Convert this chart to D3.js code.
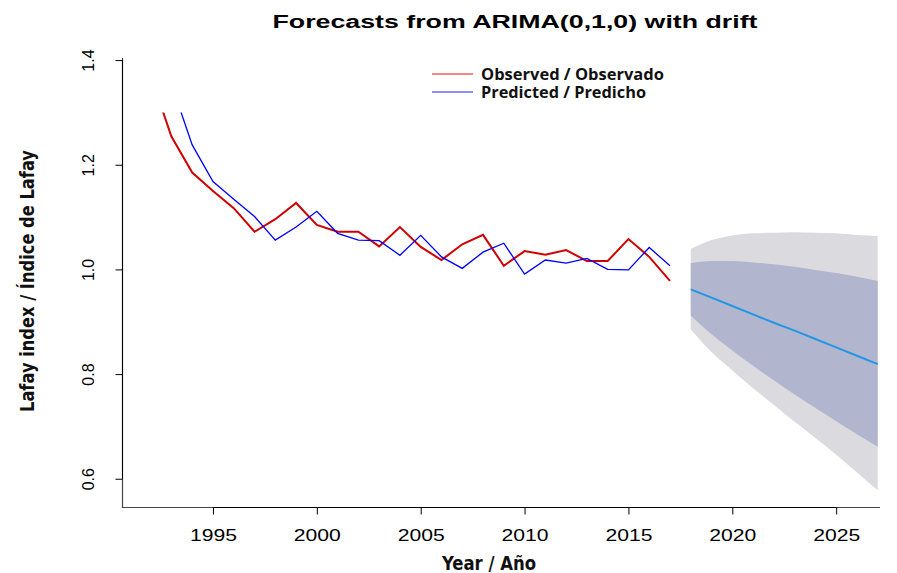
<!DOCTYPE html>
<html lang="en">
<head>
<meta charset="UTF-8">
<title>Forecasts from ARIMA(0,1,0) with drift</title>
<script src="https://d3js.org/d3.v7.min.js"></script>
<style>
  body { margin: 0; background: #fff; }
  svg { display: block; }
  .tick-label { font-family: "Liberation Sans", Arial, sans-serif; font-size: 16px; fill: #000; }
  .axis-title { font-family: "Liberation Sans Narrow", "DejaVu Sans Condensed", sans-serif; font-weight: bold; font-size: 20px; fill: #111; }
  .legend-text { font-family: "Open Sans", "Noto Sans", sans-serif; font-weight: 700; font-size: 15.5px; fill: #111; }
</style>
</head>
<body>
<div id="chart"></div>
<script>
// observed series (Lafay index) and fitted values
const years = [1992, 1993, 1994, 1995, 1996, 1997, 1998, 1999, 2000, 2001, 2002, 2003, 2004,
               2005, 2006, 2007, 2008, 2009, 2010, 2011, 2012, 2013, 2014, 2015, 2016, 2017];
const observed = [1.370, 1.254, 1.185, 1.150, 1.117, 1.072, 1.096, 1.127, 1.085, 1.072, 1.072, 1.044, 1.081,
                  1.043, 1.018, 1.048, 1.066, 1.007, 1.035, 1.028, 1.037, 1.016, 1.016, 1.058, 1.024, 0.978];
const predicted = [1.369, 1.354, 1.238, 1.168, 1.134, 1.101, 1.056, 1.081, 1.111, 1.069, 1.056, 1.055, 1.027,
                   1.065, 1.024, 1.002, 1.033, 1.050, 0.991, 1.018, 1.012, 1.021, 1.000, 0.999, 1.042, 1.007];

// forecast with 80% and 95% intervals
const fcYears = [2018, 2019, 2020, 2021, 2022, 2023, 2024, 2025, 2026, 2027];
const fcMean  = [0.962, 0.946, 0.930, 0.914, 0.898, 0.883, 0.867, 0.851, 0.835, 0.819];
const hi80    = [1.012, 1.016, 1.016, 1.013, 1.010, 1.005, 0.999, 0.993, 0.986, 0.978];
const lo80    = [0.912, 0.876, 0.845, 0.816, 0.788, 0.761, 0.735, 0.710, 0.685, 0.661];
const hi95    = [1.039, 1.056, 1.065, 1.069, 1.070, 1.071, 1.070, 1.069, 1.066, 1.064];
const lo95    = [0.885, 0.842, 0.807, 0.773, 0.741, 0.709, 0.678, 0.646, 0.612, 0.578];

const xTicks = [1995, 2000, 2005, 2010, 2015, 2020, 2025];
const yTicks = [0.6, 0.8, 1.0, 1.2, 1.4];

const width = 897, height = 573;
const plot = { left: 122, right: 880, top: 58, bottom: 507 };

const svg = d3.select("#chart").append("svg")
    .attr("width", width)
    .attr("height", height);

const x = d3.scaleLinear().domain([1990.62, 2027.11]).range([plot.left, plot.right]);
const y = d3.scaleLinear().domain([0.546, 1.404]).range([plot.bottom, plot.top]);

// lines get cut where the original plot cut them
svg.append("clipPath").attr("id", "clip")
  .append("rect")
    .attr("x", plot.left)
    .attr("y", y(1.30))
    .attr("width", plot.right - plot.left)
    .attr("height", plot.bottom - y(1.30));

const fc = fcYears.map((d, i) => ({ year: d, mean: fcMean[i], hi80: hi80[i], lo80: lo80[i], hi95: hi95[i], lo95: lo95[i] }));

const band = (lo, hi) => d3.area()
    .x(d => x(d.year))
    .y0(d => y(d[lo]))
    .y1(d => y(d[hi]))
    .curve(d3.curveMonotoneX);

svg.append("path").datum(fc)
    .attr("d", band("lo95", "hi95"))
    .attr("fill", "#dbdbdf");

svg.append("path").datum(fc)
    .attr("d", band("lo80", "hi80"))
    .attr("fill", "#b1b5ce");

const line = d3.line().x(d => x(d[0])).y(d => y(d[1]));

svg.append("path")
    .datum(fc.map(d => [d.year, d.mean]))
    .attr("d", line)
    .attr("fill", "none")
    .attr("stroke", "#2297e6")
    .attr("stroke-width", 2);

const series = svg.append("g").attr("clip-path", "url(#clip)");

series.append("path")
    .datum(years.map((d, i) => [d, observed[i]]))
    .attr("d", line)
    .attr("fill", "none")
    .attr("stroke", "#cf0000")
    .attr("stroke-width", 2);

series.append("path")
    .datum(years.map((d, i) => [d, predicted[i]]))
    .attr("d", line)
    .attr("fill", "none")
    .attr("stroke", "#0000ff")
    .attr("stroke-width", 1.3);

// L-shaped box
svg.append("path")
    .attr("d", `M${plot.left + 0.5},${plot.top}V${plot.bottom + 0.5}H${plot.right}`)
    .attr("fill", "none")
    .attr("stroke", "#444")
    .attr("stroke-width", 1.2);

// axes
const xAxis = svg.append("g")
    .attr("transform", `translate(0,${plot.bottom + 0.5})`)
    .call(d3.axisBottom(x).tickValues(xTicks).tickSize(7).tickFormat(d3.format("d")).tickPadding(15));
xAxis.select(".domain").attr("stroke", "#000").attr("d", `M${x(1995)},0H${x(2025)}`);
xAxis.selectAll("text").attr("class", "tick-label").attr("font-size", null).attr("font-family", null)
    .attr("textLength", 47).attr("lengthAdjust", "spacingAndGlyphs");

const yAxis = svg.append("g")
    .attr("transform", `translate(${plot.left + 0.5},0)`)
    .call(d3.axisLeft(y).tickValues(yTicks).tickSize(7).tickFormat(d3.format(".1f")));
yAxis.select(".domain").attr("d", `M0,${y(0.6)}V${y(1.4)}`);
yAxis.selectAll("text")
    .attr("class", "tick-label")
    .attr("font-size", null).attr("font-family", null)
    .attr("x", null).attr("dy", null)
    .attr("text-anchor", "middle")
    .attr("transform", "translate(-29,0) rotate(-90)");

// titles
svg.append("text")
    .attr("x", 515)
    .attr("y", 28)
    .attr("text-anchor", "middle")
    .attr("font-family", "Liberation Sans, Arial, sans-serif")
    .attr("font-weight", "bold")
    .attr("font-size", 18)
    .attr("textLength", 485)
    .attr("lengthAdjust", "spacingAndGlyphs")
    .text("Forecasts from ARIMA(0,1,0) with drift");

svg.append("text")
    .attr("class", "axis-title")
    .attr("x", 489)
    .attr("y", 570)
    .attr("text-anchor", "middle")
    .attr("textLength", 94)
    .attr("lengthAdjust", "spacingAndGlyphs")
    .text("Year / Año");

svg.append("text")
    .attr("class", "axis-title")
    .attr("transform", "translate(34,281) rotate(-90)")
    .attr("text-anchor", "middle")
    .attr("textLength", 262)
    .attr("lengthAdjust", "spacingAndGlyphs")
    .text("Lafay index / Índice de Lafay");

// legend
const legendItems = [
  { label: "Observed / Observado", color: "#f01010", len: 183 },
  { label: "Predicted / Predicho", color: "#2020e0", len: 165 }
];
const legend = svg.append("g").attr("transform", "translate(432,74)");
legendItems.forEach((d, i) => {
  const g = legend.append("g").attr("transform", `translate(0,${i * 18})`);
  g.append("line").attr("x1", 0).attr("x2", 41).attr("y1", 0).attr("y2", 0)
      .attr("stroke", d.color).attr("stroke-width", 1.2);
  g.append("text").attr("class", "legend-text").attr("x", 49).attr("y", 6)
      .attr("textLength", d.len).attr("lengthAdjust", "spacingAndGlyphs")
      .text(d.label);
});
</script>
</body>
</html>
